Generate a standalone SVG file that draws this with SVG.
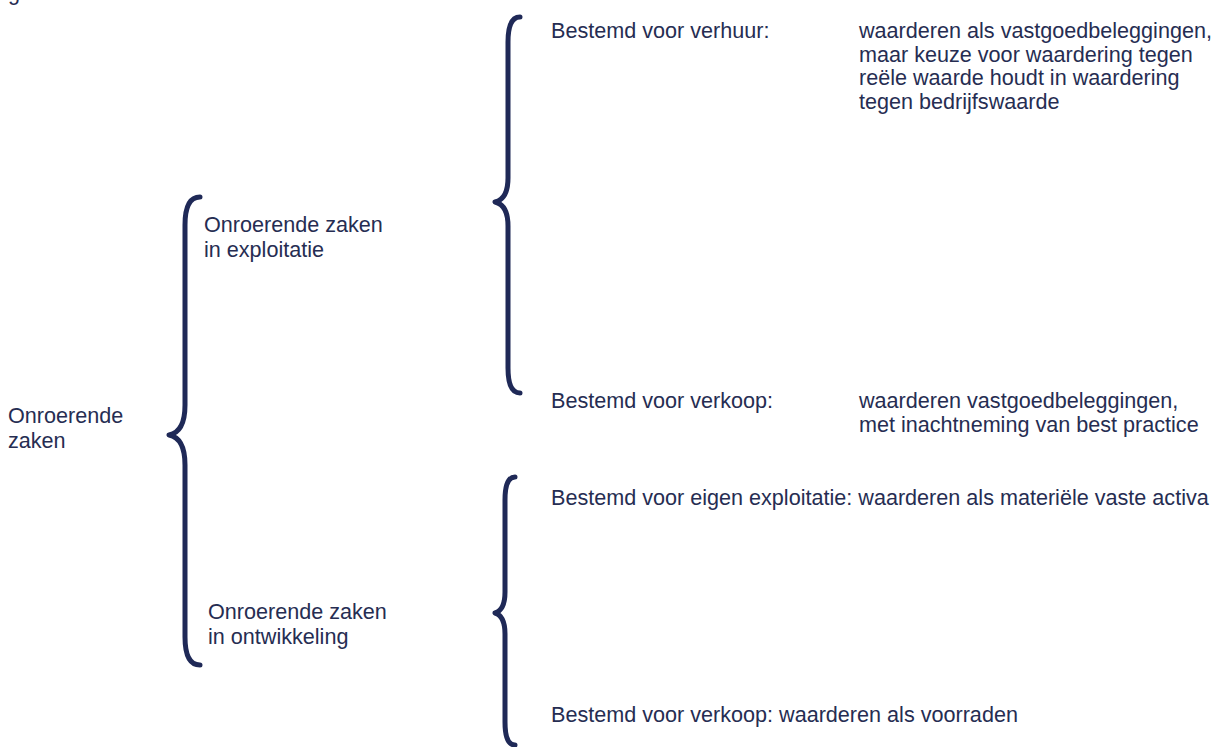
<svg xmlns="http://www.w3.org/2000/svg" width="1216" height="747" viewBox="0 0 1216 747">
<style>
text{font-family:"Liberation Sans",Arial,sans-serif;font-size:21.6px;fill:#262d52}
.br{fill:none;stroke:#1f2957;stroke-width:5;stroke-linecap:round;stroke-linejoin:round}
</style>
<rect width="1216" height="747" fill="#fff"/>
<text x="8" y="0">g</text>
<g id="connectors">
<path class="br" d="M200,197 Q185,197 185,225 L185,405 Q185,432 169,435 Q185,438 185,465 L185,637 Q185,665 200,665"/>
<path class="br" d="M520,17 Q508,17 508,42 L508,178 Q508,199 495,202 Q508,205 508,226 L508,368 Q508,393 520,393"/>
<path class="br" d="M515,477 Q505,477 505,500 L505,592 Q505,610 495,613 Q505,616 505,634 L505,722 Q505,745 515,745"/>
</g>
<g id="n-root"><text x="8" y="423">Onroerende</text><text x="8" y="448">zaken</text></g>
<g id="n-exploitatie"><text x="204" y="232">Onroerende zaken</text><text x="204" y="257">in exploitatie</text></g>
<g id="n-ontwikkeling"><text x="208" y="619">Onroerende zaken</text><text x="208" y="644">in ontwikkeling</text></g>
<g id="n-verhuur"><text x="551" y="38">Bestemd voor verhuur:</text>
<text x="859" y="38">waarderen als vastgoedbeleggingen,</text>
<text x="859" y="61.5">maar keuze voor waardering tegen</text>
<text x="859" y="85">reële waarde houdt in waardering</text>
<text x="859" y="108.5">tegen bedrijfswaarde</text></g>
<g id="n-verkoop1"><text x="551" y="408">Bestemd voor verkoop:</text>
<text x="859" y="408">waarderen vastgoedbeleggingen,</text>
<text x="859" y="431.5">met inachtneming van best practice</text></g>
<g id="n-eigen"><text x="551" y="505">Bestemd voor eigen exploitatie: waarderen als materiële vaste activa</text></g>
<g id="n-verkoop2"><text x="551" y="722">Bestemd voor verkoop: waarderen als voorraden</text></g>
</svg>
